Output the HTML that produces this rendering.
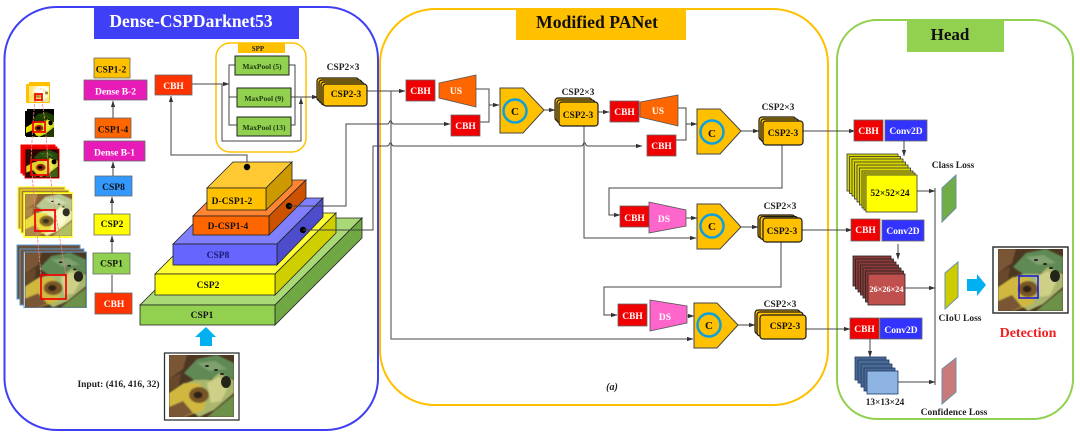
<!DOCTYPE html>
<html><head><meta charset="utf-8">
<style>
html,body{margin:0;padding:0;background:#fff;width:1080px;height:432px;overflow:hidden}
svg{display:block;filter:blur(.35px)}
text{font-family:"Liberation Serif",serif;font-weight:bold;text-anchor:middle}
.w{fill:#fff;font-size:9.5px}
.k{fill:#111;font-size:9.5px}
.n{fill:#222;font-size:9.5px}
.m{fill:#1c3a10;font-size:7.5px}
.l{fill:none;stroke:#444;stroke-width:1}
.a{marker-end:url(#ar)}
.bx{stroke:#666;stroke-width:.8}
.st{stroke:#1a1a1a;stroke-width:1.200}
.py{stroke:#222;stroke-width:.8}
</style></head><body>
<svg width="1080" height="432" viewBox="0 0 1080 432" xmlns="http://www.w3.org/2000/svg">
<defs>
<marker id="ar" markerUnits="userSpaceOnUse" markerWidth="7" markerHeight="5" refX="6" refY="2.5" orient="auto"><path d="M0,0.4L6.5,2.5L0,4.6z" fill="#333"/></marker>
<filter id="sb" x="-5%" y="-5%" width="110%" height="110%"><feGaussianBlur stdDeviation=".9"/></filter>
<symbol id="leaf" viewBox="0 0 65 62" preserveAspectRatio="none">
<rect width="65" height="62" style="fill:var(--b,#4d3722)"/>
<g filter="url(#sb)">
<polygon points="0,0 18,0 14,14 0,24" style="fill:var(--c,#7a5636)"/>
<polygon points="0,24 12,18 10,30 0,36" style="fill:var(--c,#6b4a2c)"/>
<polygon points="15,18 28,4 48,0 65,8 65,24 52,19 40,25 25,25" style="fill:var(--g,#5f8a55)"/>
<polygon points="28,8 46,6 58,14 40,16" style="fill:var(--h,#7fa070)"/>
<polygon points="12,30 25,25 42,25 50,18 65,25 65,38 45,55 30,62 15,50" style="fill:var(--m,#a9b76e)"/>
<polygon points="38,28 50,22 60,30 52,46 42,48" style="fill:var(--p,#cfd088)"/>
<polygon points="0,38 15,28 30,28 38,40 35,55 15,62 0,55" style="fill:var(--y,#d0b840)"/>
<polygon points="0,52 14,46 24,58 14,62 0,62" style="fill:var(--c,#7a5636)"/>
<ellipse cx="30" cy="40" rx="10" ry="8" style="fill:var(--s,#7a5628)"/>
<ellipse cx="29" cy="40" rx="4.500" ry="3.500" style="fill:var(--d,#2e2416)"/>
<polygon points="38,62 55,48 65,40 65,62" style="fill:var(--q,#6d9148)"/>
</g>
<ellipse cx="57" cy="27" rx="5" ry="6" style="fill:var(--d,#23241a)"/>
<ellipse cx="38" cy="11" rx="2" ry="1" style="fill:var(--d,#23241a)"/>
<ellipse cx="47" cy="15" rx="2" ry="1" style="fill:var(--d,#23241a)"/>
<ellipse cx="53" cy="19" rx="2" ry="1" style="fill:var(--d,#23241a)"/>
</symbol>
</defs>

<!-- panels -->
<rect x="4.5" y="7" width="373.500" height="423" rx="52" fill="#fff" stroke="#3f3ff5" stroke-width="2"/>
<rect x="380" y="9" width="448" height="396" rx="55" fill="#fff" stroke="#ffc000" stroke-width="2"/>
<rect x="837" y="20" width="236" height="399" rx="40" fill="#fff" stroke="#92d050" stroke-width="2"/>
<rect x="94" y="8" width="205" height="31" fill="#3f3ff5"/>
<text x="191" y="27" fill="#fff" font-size="17.500">Dense-CSPDarknet53</text>
<rect x="516" y="9" width="170" height="31" fill="#ffc000"/>
<text x="597" y="28" fill="#111" font-size="17.700">Modified PANet</text>
<rect x="907" y="21" width="97" height="31" fill="#92d050"/>
<text x="950" y="40" fill="#111" font-size="17">Head</text>

<!-- left image stacks -->
<g style="--b:#fff3b0;--c:#ffe680;--g:#fff;--h:#fffbe0;--m:#f8f6c0;--p:#fffde0;--y:#ffe36a;--s:#d8a030;--q:#e8e8a0;--d:#a08030">
<rect x="29" y="82" width="21" height="19" fill="#ffc000"/>
<rect x="26" y="84" width="24" height="19" rx="1" fill="#ffc000"/>
<use href="#leaf" x="29" y="86" width="20" height="16"/>
</g>
<g style="--b:#000;--c:#000;--g:#1c3a00;--h:#2a5000;--m:#c8d820;--p:#e8e830;--y:#f0e000;--s:#a02010;--q:#203a00;--d:#000">
<rect x="27" y="109" width="27" height="25" fill="#000"/>
<rect x="25" y="111" width="27" height="25" fill="#000"/>
<use href="#leaf" x="26" y="112" width="28" height="25"/>
</g>
<g style="--b:#300;--c:#2a0a00;--g:#264a10;--h:#3a6a18;--m:#d0d840;--p:#e8e850;--y:#e8d020;--s:#902010;--q:#3c6018;--d:#000">
<rect x="21" y="145" width="34" height="28" fill="#e00" stroke="#f00"/>
<rect x="23" y="147" width="34" height="28" fill="#c00" stroke="#f00"/>
<rect x="25" y="149" width="34" height="29" fill="#000" stroke="#f00"/>
<use href="#leaf" x="26" y="150" width="32" height="27"/>
</g>
<g style="--b:#8a6030;--c:#b08848;--g:#b8c890;--h:#d0dcb0;--m:#eef0b0;--p:#fafad0;--y:#eedd40;--s:#8a6a20;--q:#b0c060;--d:#303020">
<rect x="18" y="187" width="47" height="42" fill="#c09050" stroke="#ff0" stroke-width="1"/>
<rect x="21" y="190" width="48" height="43" fill="#a07840" stroke="#ff0" stroke-width="1"/>
<rect x="24" y="193" width="48" height="44" fill="#fff" stroke="#ff0" stroke-width="1.500"/>
<use href="#leaf" x="25" y="194" width="47" height="42"/>
</g>
<rect x="17" y="245" width="63" height="54" fill="#6a5038" stroke="#5b9bd5" stroke-width="1"/>
<rect x="20" y="249" width="64" height="56" fill="#705238" stroke="#5b9bd5" stroke-width="1"/>
<rect x="24" y="252" width="62.500" height="55.500" fill="#fff" stroke="#5b9bd5" stroke-width="1"/>
<use href="#leaf" x="25" y="252.500" width="61" height="55"/>
<path d="M35,100L33,122L31,160L35,210L41,275M42,100L45,122L48,160L55,210L66,275" fill="none" stroke="#f08080" stroke-width=".8" stroke-dasharray="3 1"/>
<g fill="none" stroke="#f00000" stroke-width="1.700">
<rect x="35" y="94" width="7" height="6"/>
<rect x="33" y="122" width="12" height="10"/>
<rect x="31" y="160" width="17" height="15"/>
<rect x="35" y="210" width="20" height="21"/>
<rect x="41" y="275" width="25" height="24"/>
</g>

<!-- backbone column -->
<path class="l a" d="M112,253V236"/>
<path class="l a" d="M112,214V197"/>
<path class="l a" d="M113,176V162"/>
<path class="l a" d="M113,118V101"/>
<path class="l" d="M112,293V275"/>
<rect class="bx" x="94" y="58" width="36" height="20" fill="#ffc000"/><text class="k" x="111" y="72.500">CSP1-2</text>
<rect class="bx" x="84" y="80" width="63" height="20" fill="#e71cb8"/><text class="w" x="115.500" y="94.500">Dense B-2</text>
<rect class="bx" x="95" y="118" width="36" height="20" fill="#ff6600"/><text class="k" x="113" y="132.500">CSP1-4</text>
<rect class="bx" x="84" y="141" width="61" height="20" fill="#e71cb8"/><text class="w" x="114.500" y="155.500">Dense B-1</text>
<rect class="bx" x="95" y="176" width="37" height="20" fill="#3399ff"/><text class="k" x="113.500" y="190">CSP8</text>
<rect class="bx" x="94" y="214" width="36" height="21" fill="#ffff00"/><text class="k" x="112" y="227">CSP2</text>
<rect class="bx" x="93" y="253" width="37" height="21" fill="#92d050"/><text class="k" x="111.500" y="266.500">CSP1</text>
<rect class="bx" x="95" y="293" width="37" height="21" fill="#ff3300"/><text class="w" x="114" y="307">CBH</text>

<!-- SPP -->
<rect x="216" y="43" width="90" height="109" rx="14" fill="#fff" stroke="#ffc000" stroke-width="1.500"/>
<rect x="238" y="43" width="47" height="10" fill="#ffc000"/>
<text x="258" y="51" font-size="7" fill="#222">SPP</text>
<path class="l" d="M235,65H229V125H237M229,97H237M289,65H295V125H291"/>
<path class="l a" d="M192,84H229"/>
<path class="l a" d="M291,97H318"/>
<path class="l a" d="M222,84V141H301V98"/>
<path class="l a" d="M247,167V155H171V96"/>
<g stroke="#222" stroke-width="1" fill="#92d050">
<rect x="235" y="56" width="54" height="19"/>
<rect x="237" y="88" width="54" height="19"/>
<rect x="237" y="117" width="54" height="19"/>
</g>
<text class="m" x="262" y="69">MaxPool (5)</text>
<text class="m" x="264" y="101">MaxPool (9)</text>
<text class="m" x="264" y="130">MaxPool (13)</text>
<rect class="bx" x="155" y="75" width="37" height="20" fill="#ff3300"/><text class="w" x="173.500" y="89">CBH</text>

<!-- pyramid -->
<g class="py">
<polygon points="140,305 227,218 362,218 275,305" fill="#a9d977"/>
<polygon points="275,305 362,218 362,238 275,325" fill="#70a844"/>
<rect x="140" y="305" width="135" height="20" fill="#92d050"/>
<polygon points="155,274 216,213 336,213 275,274" fill="#ffff33"/>
<polygon points="275,274 336,213 336,233 275,295" fill="#cfcf00"/>
<rect x="155" y="274" width="120" height="21" fill="#ffff00"/>
<polygon points="173,244 219,198 323,198 277,244" fill="#8080ff"/>
<polygon points="277,244 323,198 323,217 277,265" fill="#4d4dcc"/>
<rect x="173" y="244" width="104" height="21" fill="#6666ff"/>
<polygon points="193,216 229,180 306,180 269,216" fill="#ff8533"/>
<polygon points="269,216 306,180 306,198 269,235" fill="#cc5200"/>
<rect x="193" y="216" width="76" height="19" fill="#ff6600"/>
<polygon points="207,188 233,162 292,162 266,188" fill="#ffc933"/>
<polygon points="266,188 292,162 292,185 266,210" fill="#cc9a00"/>
<rect x="207" y="188" width="59" height="22" fill="#ffc000"/>
</g>
<text class="k" x="202" y="318" font-size="9.500">CSP1</text>
<text class="k" x="208" y="288">CSP2</text>
<text x="218" y="258" fill="#1a1a70" font-size="9.500">CSP8</text>
<text class="k" x="228" y="229">D-CSP1-4</text>
<text class="k" x="232" y="204">D-CSP1-2</text>
<circle cx="247" cy="167" r="3.200" fill="#000"/>
<circle cx="289" cy="206" r="3.200" fill="#000"/>
<circle cx="303" cy="230" r="3.200" fill="#000"/>

<polygon points="206,327 216,337 212,337 212,346 200,346 200,337 195,337" fill="#00b0f0"/>
<rect x="164.500" y="353" width="74.500" height="67" fill="#fff" stroke="#333" stroke-width="1.300"/>
<use href="#leaf" x="169" y="355" width="65" height="62"/>
<text class="n" x="118.500" y="387" font-size="9.200">Input: (416, 416, 32)</text>

<!-- backbone to neck connectors -->
<path class="l a" d="M289,206H346V124H387q2,0 2.500,-2.500q1,-1.500 2,0q.5,2.500 2.500,2.500H450"/>
<path class="l a" d="M303,230H373V146H387q2,0 2.500,-2.500q1,-1.500 2,0q.5,2.500 2.500,2.500H581q2,0 2.500,-2.500q1,-1.500 2,0q.5,2.500 2.500,2.500H642"/>
<path class="l a" d="M367,91H405"/>
<path class="l a" d="M391,91V339H693"/>

<g class="st" fill="#ffc000">
<rect x="317" y="78" width="42" height="23" rx="3"/>
<rect x="319" y="80" width="43" height="23" rx="3"/>
<rect x="321" y="82" width="43" height="23" rx="3"/>
<rect x="323" y="84" width="44" height="22" rx="3"/>
</g>
<text class="n" x="343" y="70">CSP2×3</text>
<text class="k" x="346" y="97">CSP2-3</text>

<!-- neck -->
<path class="l" d="M476,89H489V122H480"/>
<path class="l a" d="M489,105H499"/>
<path class="l a" d="M544,110H555"/>
<path class="l a" d="M598,112H609"/>
<path class="l" d="M678,108H686V140H676"/>
<path class="l a" d="M686,124H697"/>
<path class="l a" d="M741,131H759"/>
<path class="l a" d="M803,131H855"/>
<path class="l a" d="M782,145V188H609V215H620"/>
<path class="l a" d="M584,126V238H696"/>
<path class="l a" d="M686,218H697"/>
<path class="l a" d="M741,227H758"/>
<path class="l a" d="M802,230H852"/>
<path class="l a" d="M781,242V287H604V315H617"/>
<path class="l a" d="M687,316H694"/>
<path class="l a" d="M738,325H755"/>
<path class="l a" d="M806,329H850"/>

<g class="bx" fill="#f00000">
<rect x="406" y="80" width="29" height="21"/>
<rect x="451" y="115" width="29" height="21"/>
<rect x="610" y="101" width="29" height="21"/>
<rect x="647" y="135" width="29" height="21"/>
<rect x="620" y="206" width="29" height="21"/>
<rect x="618" y="304" width="29" height="22"/>
</g>
<text class="w" x="420.500" y="94">CBH</text>
<text class="w" x="465.500" y="129">CBH</text>
<text class="w" x="624.500" y="115">CBH</text>
<text class="w" x="661.500" y="149">CBH</text>
<text class="w" x="634.500" y="221">CBH</text>
<text class="w" x="632.500" y="319">CBH</text>

<g stroke="#555" stroke-width=".8">
<polygon points="439,83 476,75 476,107 439,98" fill="#ff6600"/>
<polygon points="640,102 678,95 678,126 640,117" fill="#ff6600"/>
<polygon points="649,202 686,210 686,226 649,233" fill="#ff66cc"/>
<polygon points="650,300 687,306 687,323 650,331" fill="#ff66cc"/>
</g>
<text class="w" x="456" y="94">US</text>
<text class="w" x="658" y="114">US</text>
<text class="w" x="664" y="222">DS</text>
<text class="w" x="665" y="320">DS</text>

<g stroke="#444" stroke-width="1" fill="#ffc000">
<polygon points="500,88 523,88 544,110 523,133 500,133"/>
<polygon points="697,109 720,109 741,131 720,154 697,154"/>
<polygon points="697,204 720,204 741,227 720,249 697,249"/>
<polygon points="694,303 717,303 738,325 717,348 694,348"/>
</g>
<g fill="none" stroke="#0c9fdc" stroke-width="2.500">
<circle cx="515" cy="111" r="11.500"/>
<circle cx="712" cy="132" r="11.500"/>
<circle cx="712" cy="226" r="11.500"/>
<circle cx="709" cy="325" r="11.500"/>
</g>
<text class="k" x="515" y="115" style="font-size:11px">C</text>
<text class="k" x="712" y="137" style="font-size:11px">C</text>
<text class="k" x="712" y="230" style="font-size:11px">C</text>
<text class="k" x="709" y="329" style="font-size:11px">C</text>

<g class="st" fill="#ffc000">
<rect x="555" y="98" width="37" height="23" rx="3"/><rect x="557" y="100" width="38" height="23" rx="3"/><rect x="559" y="102" width="39" height="24" rx="3"/>
<rect x="759" y="117" width="37" height="23" rx="3"/><rect x="761" y="119" width="38" height="23" rx="3"/><rect x="763" y="121" width="40" height="24" rx="3"/>
<rect x="758" y="215" width="37" height="23" rx="3"/><rect x="760" y="216.500" width="38" height="23" rx="3"/><rect x="763" y="218" width="39" height="24" rx="3"/>
<rect x="755" y="310" width="45" height="24" rx="3"/><rect x="757" y="312" width="46" height="24" rx="3"/><rect x="760" y="315" width="46" height="24" rx="3"/>
</g>
<text class="n" x="578" y="95">CSP2×3</text>
<text class="n" x="778" y="110">CSP2×3</text>
<text class="n" x="780" y="209">CSP2×3</text>
<text class="n" x="780" y="307">CSP2×3</text>
<text class="k" x="578" y="118">CSP2-3</text>
<text class="k" x="783" y="136">CSP2-3</text>
<text class="k" x="782" y="234">CSP2-3</text>
<text class="k" x="785" y="329">CSP2-3</text>
<text x="612" y="390" fill="#222" font-size="10" font-style="italic">(a)</text>

<!-- Head -->
<path d="M935,188V385" stroke="#808080" stroke-width="1.500" fill="none"/>
<g class="bx">
<rect x="854" y="120" width="29" height="21" fill="#f00000"/><rect x="885" y="120" width="42" height="21" fill="#3333ff"/>
<rect x="851" y="219" width="29" height="22" fill="#f00000"/><rect x="882" y="220" width="42" height="21" fill="#3333ff"/>
<rect x="850" y="318" width="29" height="21" fill="#f00000"/><rect x="880" y="318" width="42" height="21" fill="#3333ff"/>
</g>
<text class="w" x="868.500" y="134">CBH</text><text class="w" x="906" y="134">Conv2D</text>
<text class="w" x="865.500" y="233">CBH</text><text class="w" x="903" y="234">Conv2D</text>
<text class="w" x="864.500" y="332">CBH</text><text class="w" x="901" y="333">Conv2D</text>
<path class="l a" d="M904,141V156"/>
<path class="l a" d="M898,244V259"/>
<path class="l a" d="M870,339V357"/>
<path class="l a" d="M917,191H935"/>
<path class="l a" d="M905,288H935"/>
<path class="l a" d="M898,382H935"/>

<g stroke="#333" stroke-width=".8" fill="#d8d800">
<rect x="847" y="154" width="51" height="37"/><rect x="849.500" y="156.500" width="51" height="37"/><rect x="852" y="159" width="51" height="37"/>
<rect x="854.500" y="162" width="51" height="37"/><rect x="857" y="165" width="51" height="37"/><rect x="859.500" y="168" width="51" height="37"/>
<rect x="862" y="171" width="51" height="37"/><rect x="864" y="173" width="51" height="37"/>
<rect x="866" y="175" width="51" height="37" fill="#ffff00"/>
</g>
<text class="k" x="890" y="196">52×52×24</text>

<g stroke="#222" stroke-width=".8" fill="#8c3a38">
<rect x="853" y="256" width="38" height="30"/><rect x="855.500" y="259" width="38" height="30"/><rect x="858" y="262" width="38" height="30"/>
<rect x="860.500" y="265" width="38" height="30"/><rect x="863" y="268" width="38" height="30"/><rect x="865.500" y="271" width="38" height="31"/>
<rect x="868" y="274" width="37" height="31" fill="#c0504d"/>
</g>
<text x="886.500" y="292" fill="#fff" font-size="8.200">26×26×24</text>

<g stroke="#1f3864" stroke-width=".8" fill="#4a6a94">
<rect x="855" y="357" width="31" height="23"/><rect x="858" y="360" width="31" height="23"/><rect x="861" y="364" width="31" height="23"/>
<rect x="864" y="368" width="31" height="23"/>
<rect x="867" y="371" width="31" height="23" fill="#8db4e2"/>
</g>
<text class="n" x="885" y="405" style="font-size:9.300px">13×13×24</text>

<polygon points="942,188 956,175 956,208 942,222" fill="#70ad47" stroke="#6d8fa8"/>
<polygon points="945,273 958,262 958,297 945,309" fill="#cccc00" stroke="#6d8fa8"/>
<polygon points="942,369 956,358 956,392 942,404" fill="#c97a7a" stroke="#6d8fa8"/>
<text class="n" x="953" y="168">Class Loss</text>
<text class="n" x="960" y="321">CIoU Loss</text>
<text class="n" x="954" y="415">Confidence Loss</text>

<polygon points="967,279 977,279 977,274 986,285 977,296 977,291 967,291" fill="#00b0f0"/>
<rect x="993" y="247" width="75" height="66" fill="#fff" stroke="#333" stroke-width="1.500"/>
<use href="#leaf" x="998" y="249" width="65" height="62"/>
<rect x="1019" y="276" width="19" height="22" fill="none" stroke="#1414e0" stroke-width="1.500"/>
<text x="1028" y="337" fill="#f02020" font-size="14">Detection</text>
</svg>
</body></html>
